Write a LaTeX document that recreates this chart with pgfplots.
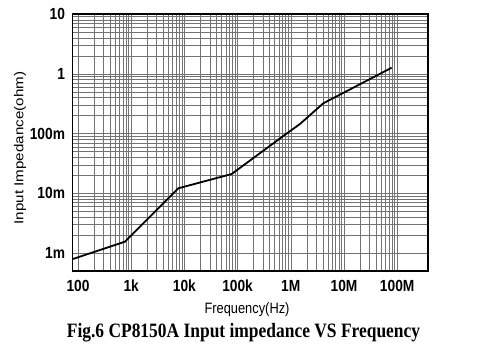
\documentclass[border=0pt]{standalone}
\usepackage{graphicx}
\usepackage{fontspec}
\setmainfont{Liberation Serif}
\newfontfamily\arial{Liberation Sans}
\usepackage{pgfplots}
\pgfplotsset{compat=1.18}
\newcommand\vs[1]{\scalebox{1}[1.17]{#1}}
\begin{document}
\begin{tikzpicture}[x=1bp,y=1bp]
\path[use as bounding box] (0,0) rectangle (500,361);
\begin{axis}[
  at={(72.7bp,90bp)}, anchor=south west,
  scale only axis, width=355.3bp, height=257bp,
  xmode=log, ymode=log,
  xmin=79.5, xmax=3.8e8, ymin=5.04e-4, ymax=10,
  xtick={1e2,1e3,1e4,1e5,1e6,1e7,1e8},
  xticklabels={\vs{100},\vs{1k},\vs{10k},\vs{100k},\vs{1M},\vs{10M},\vs{100M}},
  ytick={1e-3,1e-2,1e-1,1,10},
  yticklabels={\vs{1m},\vs{10m},\vs{100m},\vs{1},\vs{10}},
  major tick length=0pt, minor tick length=0pt,
  tick label style={font=\arial\bfseries\fontsize{13.8}{14}\selectfont, inner sep=0pt},
  xticklabel style={anchor=base, yshift=-20.7bp},
  yticklabel style={anchor=east, xshift=-7.5bp},
  grid=both,
  major grid style={black!55, line width=0.55bp},
  minor grid style={black!55, line width=0.55bp},
  axis line style={black, line width=1.5bp},
]
\addplot[black, line width=1.8bp] coordinates {
  (80,8.0e-4) (764,1.56e-3) (7670,0.01217) (77400,0.0211)
  (7.23e5,0.0912) (1.49e6,0.145) (4.08e6,0.321) (7.89e7,1.265)
};
\end{axis}
\node[font=\arial\fontsize{12.9}{13}\selectfont] at (247,51) {\vs{Frequency(Hz)}};
\node[font=\arial\fontsize{13}{13}\selectfont, rotate=90] at (20,213) {\scalebox{1.17}[1]{Input Impedance(ohm)}};
\node[font=\bfseries\fontsize{17.5}{18}\selectfont] at (243.5,28) {\vs{Fig.6 CP8150A Input impedance VS Frequency}};
\end{tikzpicture}
\end{document}
